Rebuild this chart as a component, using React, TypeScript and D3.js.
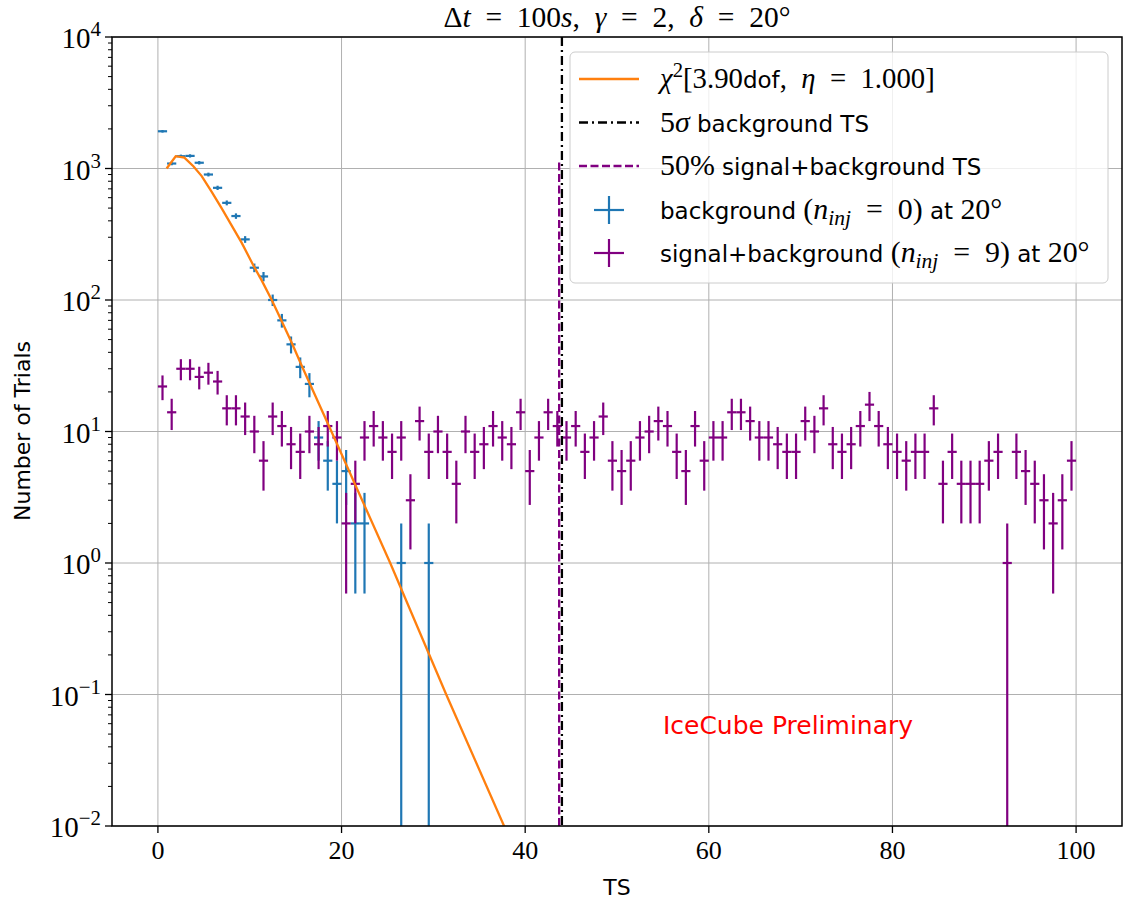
import React from 'react';
import * as d3 from 'd3';

// ---------------- data ----------------
const BIN_START = 0;
const BIN_WIDTH = 1;
const BACKGROUND_COUNTS = [
  1919, 1091, 1240, 1247, 1106, 900, 713, 548, 435, 289,
  176, 151, 100, 70, 46, 31, 23, 9, 6, 4,
  5, 2, 2, 0, 0, 0, 1, 0, 0, 1,
];
const SIGNAL_COUNTS = [
  22, 14, 30, 30, 26, 28, 24, 15, 15, 13,
  10, 6, 13, 11, 8, 7, 10, 8, 11, 9,
  2, 4, 9, 11, 9, 7, 9, 3, 12, 7,
  10, 7, 4, 10, 7, 8, 11, 9, 8, 14,
  5, 9, 14, 11, 9, 11, 7, 9, 13, 6,
  5, 6, 9, 10, 12, 11, 7, 5, 11, 6,
  9, 9, 14, 14, 12, 9, 9, 8, 7, 7,
  12, 10, 15, 8, 7, 8, 11, 16, 11, 8,
  7, 6, 7, 7, 15, 4, 7, 4, 4, 4,
  6, 7, 1, 7, 5, 4, 3, 2, 3, 6,
];
const CHI2_TS = [0.95, 1.94, 2.88, 3.86, 4.77, 5.86, 6.95, 8.04, 9.13, 10.4, 11.3, 12.4, 13.5, 14.6, 15.7, 18.9, 25.3, 31.4, 37.7, 40];
const CHI2_VALUES = [1000, 1240, 1210, 1040, 875, 665, 497, 368, 272, 183, 141, 100, 68.5, 46.9, 31.2, 10, 1, 0.1, 0.01, 0.0044];
const FIVE_SIGMA_TS = 44.0;
const FIFTY_PCT_TS = 43.7;
const FIFTY_PCT_TOP = 1150;
const X_TICKS = [0, 20, 40, 60, 80, 100];
const Y_TICK_EXPONENTS = [-2, -1, 0, 1, 2, 3, 4];

// ---------------- style ----------------
const W = 1126;
const H = 907;
const M = { left: 112, right: 1122, top: 37, bottom: 826 };
const BLUE = '#1f77b4';
const PURPLE = '#800080';
const ORANGE = '#ff7f0e';
const SANS = '"DejaVu Sans", sans-serif';
const SERIF = '"Liberation Serif", "DejaVu Serif", serif';
const EQ = '\u2002=\u2002';

type Seg = { t: string; f?: 's' | 'm' | 'mi'; sup?: boolean; sub?: boolean };

function RichText({ x, y, segs, size, anchor = 'start', fill = '#000', mathScale = 1.3 }: {
  x: number; y: number; segs: Seg[]; size: number; anchor?: string; fill?: string; mathScale?: number;
}) {
  let shift = 0;
  return (
    <text x={x} y={y} fontSize={size} textAnchor={anchor} fill={fill} style={{ whiteSpace: 'pre' }}>
      {segs.map((s, i) => {
        const target = s.sup ? -0.4 * size * mathScale : s.sub ? 0.2 * size * mathScale : 0;
        const dy = target - shift;
        shift = target;
        const fam = s.f === 's' ? SANS : SERIF;
        const base = s.f === 's' ? size : size * mathScale;
        const fs = s.sup || s.sub ? base * 0.72 : base;
        return (
          <tspan key={i} dy={dy} fontFamily={fam} fontStyle={s.f === 'mi' ? 'italic' : 'normal'} fontSize={fs}>
            {s.t}
          </tspan>
        );
      })}
    </text>
  );
}

export default function App() {
  const x = d3.scaleLinear().domain([-5, 105]).range([M.left, M.right]);
  const y = d3.scaleLog().domain([1e-2, 1e4]).range([M.bottom, M.top]);
  const yc = (v: number) => (v <= 0 ? M.bottom + 50 : y(v));

  const center = (i: number) => BIN_START + (i + 0.5) * BIN_WIDTH;

  const errorbars = (counts: number[], color: string, key: string) =>
    counts.map((n, i) => {
      if (n <= 0) return null;
      const c = center(i);
      const e = Math.sqrt(n);
      return (
        <g key={key + i} stroke={color} strokeWidth={2.2}>
          <line x1={x(c)} x2={x(c)} y1={yc(n - e)} y2={yc(n + e)} />
          <line x1={x(c - BIN_WIDTH / 2)} x2={x(c + BIN_WIDTH / 2)} y1={y(n)} y2={y(n)} />
        </g>
      );
    });

  const chi2Line = d3.line<number>()
    .x((_, i) => x(CHI2_TS[i]))
    .y((v) => y(v))(CHI2_VALUES) || '';

  const minorTicks: number[] = [];
  for (let e = -2; e < 4; e++) {
    for (let k = 2; k <= 9; k++) minorTicks.push(k * Math.pow(10, e));
  }

  const legendX = 570;
  const legendY = 52;
  const rows = [79, 122.5, 166, 210, 253];
  const handleX1 = 579;
  const handleX2 = 639;
  const handleC = (handleX1 + handleX2) / 2;
  const textX = 660;
  const LFS = 23;

  return (
    <svg width={W} height={H} style={{ position: 'absolute', left: 0, top: 0, background: '#fff' }}>
      <defs>
        <clipPath id="plotclip">
          <rect x={M.left} y={M.top} width={M.right - M.left} height={M.bottom - M.top} />
        </clipPath>
      </defs>
      <rect x={0} y={0} width={W} height={H} fill="#fff" />

      {/* grid */}
      <g stroke="#b0b0b0" strokeWidth={1}>
        {X_TICKS.map((t) => (
          <line key={'gx' + t} x1={x(t)} x2={x(t)} y1={M.top} y2={M.bottom} />
        ))}
        {Y_TICK_EXPONENTS.map((e) => (
          <line key={'gy' + e} x1={M.left} x2={M.right} y1={y(Math.pow(10, e))} y2={y(Math.pow(10, e))} />
        ))}
      </g>

      <g clipPath="url(#plotclip)">
        {errorbars(BACKGROUND_COUNTS, BLUE, 'b')}
        {errorbars(SIGNAL_COUNTS, PURPLE, 's')}
        <path d={chi2Line} fill="none" stroke={ORANGE} strokeWidth={2.3} />
        <line x1={x(FIVE_SIGMA_TS)} x2={x(FIVE_SIGMA_TS)} y1={M.top} y2={M.bottom} stroke="#000" strokeWidth={2.3} strokeDasharray="9,4,2,4" />
        <line x1={x(FIFTY_PCT_TS)} x2={x(FIFTY_PCT_TS)} y1={M.bottom} y2={y(FIFTY_PCT_TOP)} stroke={PURPLE} strokeWidth={2.3} strokeDasharray="8,3.5" />
      </g>

      {/* spines */}
      <rect x={M.left} y={M.top} width={M.right - M.left} height={M.bottom - M.top} fill="none" stroke="#000" strokeWidth={1.5} />

      {/* x ticks */}
      {X_TICKS.map((t) => (
        <g key={'xt' + t}>
          <line x1={x(t)} x2={x(t)} y1={M.bottom} y2={M.bottom + 7} stroke="#000" strokeWidth={1.3} />
          <text x={x(t)} y={859} textAnchor="middle" fontFamily={SERIF} fontSize={26}>{t}</text>
        </g>
      ))}

      {/* y ticks */}
      {minorTicks.map((v, i) => (
        <line key={'ym' + i} x1={M.left - 4} x2={M.left} y1={y(v)} y2={y(v)} stroke="#000" strokeWidth={1} />
      ))}
      {Y_TICK_EXPONENTS.map((e) => {
        const yy = y(Math.pow(10, e));
        return (
          <g key={'yt' + e}>
            <line x1={M.left - 7} x2={M.left} y1={yy} y2={yy} stroke="#000" strokeWidth={1.3} />
            <RichText x={101} y={yy + 11} size={29} mathScale={1} anchor="end"
              segs={[{ t: '10', f: 'm' }, { t: e < 0 ? '\u2212' + Math.abs(e) : String(e), f: 'm', sup: true }]} />
          </g>
        );
      })}

      {/* labels */}
      <RichText x={617} y={26.5} size={29.5} mathScale={1} anchor="middle"
        segs={[
          { t: '\u0394', f: 'm' }, { t: 't', f: 'mi' }, { t: EQ + '100', f: 'm' }, { t: 's', f: 'mi' },
          { t: ',\u2002', f: 'm' }, { t: '\u03B3', f: 'mi' }, { t: EQ + '2,\u2002', f: 'm' },
          { t: '\u03B4', f: 'mi' }, { t: EQ + '20\u00B0', f: 'm' },
        ]} />
      <text x={617} y={895} textAnchor="middle" fontFamily={SANS} fontSize={22}>TS</text>
      <text transform="translate(30,431) rotate(-90)" textAnchor="middle" fontFamily={SANS} fontSize={22}>Number of Trials</text>

      <text x={x(55)} y={y(0.05)} fontFamily={SANS} fontSize={25} fill="#ff0000">IceCube Preliminary</text>

      {/* legend */}
      <rect x={legendX} y={legendY} width={538} height={231} rx={5} fill="#fff" fillOpacity={0.8} stroke="#cccccc" strokeWidth={1} />
      <line x1={handleX1} x2={handleX2} y1={rows[0]} y2={rows[0]} stroke={ORANGE} strokeWidth={2.3} />
      <line x1={handleX1} x2={handleX2} y1={rows[1]} y2={rows[1]} stroke="#000" strokeWidth={2.3} strokeDasharray="9,4,2,4" />
      <line x1={handleX1} x2={handleX2} y1={rows[2]} y2={rows[2]} stroke={PURPLE} strokeWidth={2.3} strokeDasharray="8,3.5" />
      <g stroke={BLUE} strokeWidth={2.2}>
        <line x1={handleC - 15} x2={handleC + 15} y1={rows[3]} y2={rows[3]} />
        <line x1={handleC} x2={handleC} y1={rows[3] - 14} y2={rows[3] + 14} />
      </g>
      <g stroke={PURPLE} strokeWidth={2.2}>
        <line x1={handleC - 15} x2={handleC + 15} y1={rows[4]} y2={rows[4]} />
        <line x1={handleC} x2={handleC} y1={rows[4] - 14} y2={rows[4] + 14} />
      </g>
      <RichText x={textX} y={rows[0] + 9} size={LFS} mathScale={1.25}
        segs={[
          { t: '\u03C7', f: 'mi' }, { t: '2', f: 'm', sup: true }, { t: '[3.90', f: 'm' }, { t: 'dof', f: 's' },
          { t: ',\u2002', f: 'm' }, { t: '\u03B7', f: 'mi' }, { t: EQ + '1.000]', f: 'm' },
        ]} />
      <RichText x={textX} y={rows[1] + 9} size={LFS}
        segs={[{ t: '5', f: 'm' }, { t: '\u03C3', f: 'mi' }, { t: ' background TS', f: 's' }]} />
      <RichText x={textX} y={rows[2] + 9} size={LFS}
        segs={[{ t: '50%', f: 'm' }, { t: ' signal+background TS', f: 's' }]} />
      <RichText x={textX} y={rows[3] + 9} size={LFS}
        segs={[
          { t: 'background ', f: 's' }, { t: '(', f: 'm' }, { t: 'n', f: 'mi' }, { t: 'inj', f: 'mi', sub: true },
          { t: EQ + '0)', f: 'm' }, { t: ' at ', f: 's' }, { t: '20\u00B0', f: 'm' },
        ]} />
      <RichText x={textX} y={rows[4] + 9} size={LFS}
        segs={[
          { t: 'signal+background ', f: 's' }, { t: '(', f: 'm' }, { t: 'n', f: 'mi' }, { t: 'inj', f: 'mi', sub: true },
          { t: EQ + '9)', f: 'm' }, { t: ' at ', f: 's' }, { t: '20\u00B0', f: 'm' },
        ]} />
    </svg>
  );
}
